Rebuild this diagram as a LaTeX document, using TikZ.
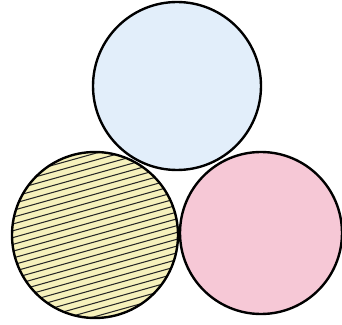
\documentclass[tikz,border=0pt]{standalone}
\usepackage{tikz}

\definecolor{skyfill}{RGB}{226,238,250}
\definecolor{rosefill}{RGB}{246,200,214}
\definecolor{strawfill}{RGB}{246,241,188}

\begin{document}
\begin{tikzpicture}[x=0.05cm, y=-0.05cm, every node/.style={circle, draw, line width=3.4pt, inner sep=0pt}]
    \useasboundingbox (0,0) rectangle (342,325);
    \node[fill=skyfill, minimum size=8.4cm] (top) at (177,86) {};
    \node[fill=rosefill, minimum size=8.1cm] (right) at (261,233) {};
    \node[fill=strawfill, minimum size=8.3cm, path picture={
        % hatching
        \foreach \k in {-16,...,16}
          \draw[line width=1.5pt, black!85] ([shift={(0,\k*6.8)}]path picture bounding box.center) ++(-100,28) -- ++(200,-56);
      }] (left) at (95,235) {};
  \end{tikzpicture}
\end{document}
